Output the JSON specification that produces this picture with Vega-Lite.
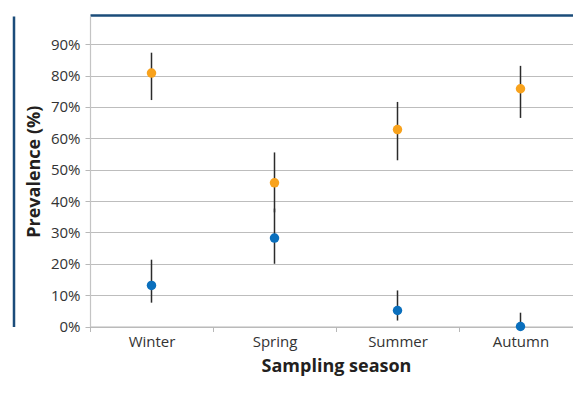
{
  "$schema": "https://vega.github.io/schema/vega-lite/v6.json",
  "autosize": {"type": "none"},
  "padding": {"left": 90, "top": 16, "right": 0, "bottom": 82.5},
  "width": 483,
  "height": 310.5,
  "background": "white",
  "config": {"view": {"stroke": null}, "font": "Open Sans"},
  "data": {
    "values": [
      {"season": "Winter", "series": "A", "value": 0.808, "lo": 0.722, "hi": 0.873},
      {"season": "Winter", "series": "B", "value": 0.131, "lo": 0.076, "hi": 0.213},
      {"season": "Spring", "series": "A", "value": 0.458, "lo": 0.364, "hi": 0.555},
      {"season": "Spring", "series": "B", "value": 0.282, "lo": 0.200, "hi": 0.376},
      {"season": "Summer", "series": "A", "value": 0.628, "lo": 0.530, "hi": 0.716},
      {"season": "Summer", "series": "B", "value": 0.051, "lo": 0.019, "hi": 0.115},
      {"season": "Autumn", "series": "A", "value": 0.758, "lo": 0.665, "hi": 0.831},
      {"season": "Autumn", "series": "B", "value": 0.0, "lo": 0.0, "hi": 0.044}
    ]
  },
  "resolve": {"axis": {"x": "independent", "y": "independent"}},
  "layer": [
    {
      "mark": {"type": "rule", "color": "#2b2b2b", "strokeWidth": 1.5},
      "encoding": {
        "x": {
          "field": "season", "type": "nominal",
          "sort": ["Winter", "Spring", "Summer", "Autumn"],
          "scale": {"range": [0, 492], "paddingInner": 0, "paddingOuter": 0},
          "axis": {
            "title": "Sampling season",
            "titleFont": "Open Sans", "titleFontSize": 18, "titleFontWeight": "bold", "titleColor": "#231f20",
            "titlePadding": 8,
            "labelFont": "Open Sans", "labelFontSize": 15, "labelColor": "#333333", "labelAngle": 0, "labelPadding": 3,
            "tickBand": "extent", "tickSize": 5, "tickColor": "#b8b8b8", "tickWidth": 1,
            "domainColor": "#b8b8b8", "domainWidth": 1.2,
            "grid": false
          }
        },
        "y": {
          "field": "lo", "type": "quantitative",
          "scale": {"domain": [0, 0.99], "nice": false, "zero": true},
          "axis": {
            "title": "Prevalence (%)",
            "titleFont": "Open Sans", "titleFontSize": 18, "titleFontWeight": "bold", "titleColor": "#231f20",
            "titlePadding": 7,
            "values": [0, 0.1, 0.2, 0.3, 0.4, 0.5, 0.6, 0.7, 0.8, 0.9],
            "format": ".0%",
            "labelFont": "Open Sans", "labelFontSize": 15, "labelColor": "#333333", "labelPadding": 5,
            "tickSize": 5, "tickColor": "#b8b8b8",
            "domainColor": "#c4c4c4", "domainWidth": 1.2,
            "grid": true, "gridColor": "#bdbdbd", "gridWidth": 1.2
          }
        },
        "y2": {"field": "hi"}
      }
    },
    {
      "mark": {"type": "point", "filled": true, "opacity": 1, "size": 90},
      "encoding": {
        "x": {
          "field": "season", "type": "nominal",
          "sort": ["Winter", "Spring", "Summer", "Autumn"],
          "axis": {
            "orient": "top", "offset": 1, "title": null, "labels": false, "ticks": false, "grid": false,
            "domainColor": "#1b4c7a", "domainWidth": 2.5
          }
        },
        "y": {
          "field": "value", "type": "quantitative",
          "axis": {
            "orient": "left", "offset": 76.5, "title": null, "labels": false, "ticks": false, "grid": false,
            "domainColor": "#1b4c7a", "domainWidth": 2.5
          }
        },
        "color": {
          "field": "series", "type": "nominal",
          "scale": {"domain": ["A", "B"], "range": ["#F8A21C", "#0A6FBD"]},
          "legend": null
        }
      }
    }
  ]
}
